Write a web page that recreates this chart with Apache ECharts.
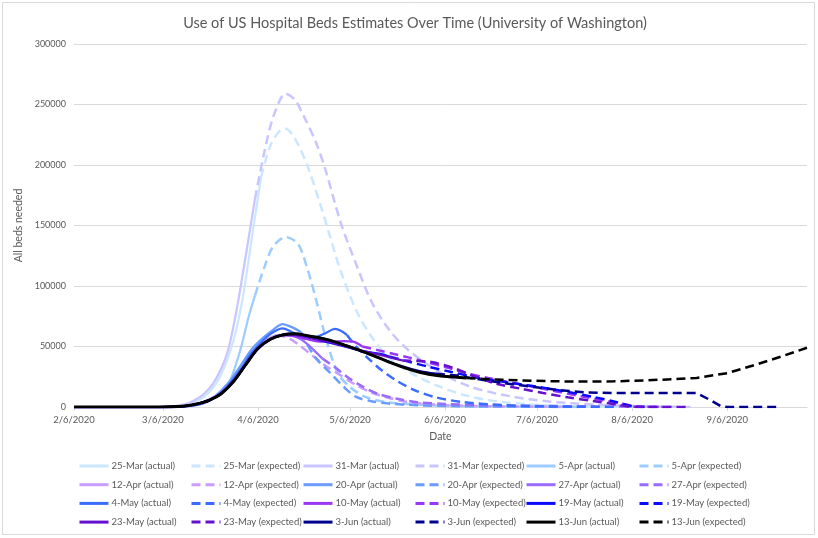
<!DOCTYPE html>
<html>
<head>
<meta charset="utf-8">
<script src="https://cdn.jsdelivr.net/npm/echarts@6/dist/echarts.min.js"></script>
<style>
  html, body { margin: 0; padding: 0; background: #fff; }
  #chart { width: 818px; height: 538px; }
</style>
</head>
<body>
<div id="chart"></div>
<script>
// values, [month/day 2020, beds]
var mar25Actual = [["2/6",0],["3/1",0],["3/8",300],["3/13",1500],["3/17",4500],["3/21",12000],["3/25",27000],["3/29",55000],["4/1",90000],["4/4",140000],["4/7",190000]];
var mar25Expected = [["4/7",190000],["4/10",216000],["4/13",228000],["4/15",230000],["4/18",222000],["4/22",200000],["4/26",170000],["4/29",145000],["5/3",112000],["5/8",80000],["5/13",58000],["5/19",40000],["5/26",28000],["6/3",18000],["6/12",10000],["6/22",5000],["7/3",2200],["7/15",800],["7/31",200],["8/10",0]];
var mar31Actual = [["2/6",0],["3/1",0],["3/6",200],["3/11",1200],["3/15",4000],["3/19",10000],["3/23",22000],["3/27",45000],["3/30",80000],["4/2",125000],["4/5",172000]];
var mar31Expected = [["4/5",172000],["4/8",210000],["4/11",240000],["4/15",259000],["4/18",254000],["4/21",240000],["4/25",218000],["4/28",196000],["5/3",152000],["5/8",118000],["5/13",87000],["5/19",63000],["5/25",47000],["6/4",29000],["6/14",17000],["6/27",9000],["7/10",4500],["7/25",2000],["8/10",600],["8/25",0]];
var apr5Actual = [["2/6",0],["3/6",0],["3/12",300],["3/17",1500],["3/21",5000],["3/24",10000],["3/27",16500],["3/31",45000],["4/3",75000],["4/5",92000]];
var apr5Expected = [["4/5",92000],["4/8",115000],["4/11",133000],["4/15",140500],["4/19",135000],["4/22",115000],["4/25",88000],["4/28",58000],["5/2",28000],["5/6",16500],["5/11",8300],["5/18",4000],["5/28",2000],["6/10",900],["6/30",300],["7/20",0]];
var apr12Actual = [["2/6",0],["3/6",0],["3/12",400],["3/17",2000],["3/21",5000],["3/25",11000],["3/29",22000],["4/2",36000],["4/6",49000],["4/9",56000],["4/12",59500]];
var apr12Expected = [["4/12",59500],["4/16",57000],["4/20",50000],["4/24",42000],["4/28",34000],["5/3",26000],["5/8",18000],["5/13",12000],["5/18",8000],["5/24",4500],["5/31",2500],["6/10",1200],["6/25",500],["7/15",0]];
var apr20Actual = [["2/6",0],["3/8",0],["3/14",800],["3/19",3500],["3/23",9000],["3/27",19000],["3/31",33000],["4/4",48000],["4/8",58000],["4/11",64000],["4/14",68500],["4/17",66000],["4/20",62000]];
var apr20Expected = [["4/20",62000],["4/22",52000],["4/25",40000],["4/30",27000],["5/4",16500],["5/8",8300],["5/13",4800],["5/18",3000],["5/28",1500],["6/10",700],["7/1",200],["7/20",0]];
var apr27Actual = [["2/6",0],["3/8",0],["3/13",800],["3/17",2500],["3/21",6000],["3/25",12000],["3/29",23000],["4/2",36000],["4/6",48000],["4/10",55500],["4/14",59500],["4/17",59000],["4/20",56000],["4/23",50000],["4/25",45000],["4/27",40000]];
var apr27Expected = [["4/27",40000],["5/1",33000],["5/5",25000],["5/10",17000],["5/15",11000],["5/21",7000],["5/28",4000],["6/6",2500],["6/20",1500],["7/6",900],["7/25",500],["8/10",200],["8/20",0]];
var may4Actual = [["2/6",0],["3/8",0],["3/14",700],["3/19",3000],["3/23",8000],["3/27",17000],["3/31",30000],["4/4",45000],["4/8",56000],["4/11",62000],["4/14",65000],["4/17",62000],["4/20",59000],["4/24",57500],["4/28",61000],["5/1",64500],["5/3",63000],["5/5",59500]];
var may4Expected = [["5/5",59500],["5/8",50000],["5/12",40000],["5/16",31000],["5/21",22000],["5/27",14000],["6/3",8000],["6/12",4000],["6/25",1500],["7/10",500],["8/1",0]];
var may10Actual = [["2/6",0],["3/8",0],["3/13",800],["3/17",2500],["3/21",5500],["3/25",11000],["3/29",21000],["4/2",35000],["4/6",48000],["4/10",56000],["4/14",59500],["4/18",58500],["4/22",56000],["4/26",54000],["4/30",54000],["5/4",54500],["5/7",54000],["5/10",50000]];
var may10Expected = [["5/10",50000],["5/15",47000],["5/20",44000],["5/25",41000],["5/31",37000],["6/6",33000],["6/13",28000],["6/20",24000],["6/30",19000],["7/10",14000],["7/20",9000],["7/31",4000],["8/8",500],["8/15",0]];
var may19Actual = [["2/6",0],["3/8",0],["3/13",800],["3/17",2500],["3/21",5500],["3/25",11000],["3/29",21000],["4/2",35000],["4/6",48500],["4/10",56000],["4/16",60500],["4/22",58000],["4/28",54000],["5/3",51000],["5/8",47500],["5/13",45000],["5/16",44000],["5/19",41500]];
var may19Expected = [["5/19",41500],["5/25",37500],["6/1",33000],["6/8",29000],["6/15",25000],["6/22",22000],["6/30",19000],["7/8",16000],["7/16",12500],["7/24",8500],["8/1",4000],["8/6",500],["8/10",0]];
var may23Actual = [["2/6",0],["3/8",0],["3/13",800],["3/17",2500],["3/21",5500],["3/25",11000],["3/29",21000],["4/2",35000],["4/6",48500],["4/10",56000],["4/16",60000],["4/25",56000],["5/2",52000],["5/9",47000],["5/16",43000],["5/23",38500]];
var may23Expected = [["5/23",38500],["5/28",38000],["6/2",37000],["6/9",32000],["6/16",25000],["6/23",19000],["7/1",15000],["7/8",11500],["7/16",8000],["7/24",5000],["8/1",2000],["8/5",300],["8/10",0],["8/24",0]];
var jun3Actual = [["2/6",0],["3/1",0],["3/8",200],["3/13",800],["3/17",2500],["3/21",5500],["3/25",11000],["3/29",21000],["4/2",35000],["4/6",48500],["4/10",56000],["4/14",59500],["4/18",60500],["4/22",59000],["4/29",55500],["5/5",50500],["5/10",46000],["5/15",41000],["5/22",34500],["5/29",29500],["6/3",27500]];
var jun3Expected = [["6/3",27500],["6/10",26000],["6/18",22500],["6/26",19500],["7/5",16500],["7/13",14000],["7/22",12000],["8/1",11600],["8/27",11600],["9/1",5000],["9/4",500],["9/6",0],["9/22",0]];
var jun13Actual = [["2/6",0],["3/1",0],["3/8",200],["3/13",800],["3/17",2500],["3/21",5500],["3/25",11000],["3/29",21000],["4/2",35000],["4/6",48500],["4/10",56000],["4/14",59500],["4/18",60500],["4/22",59000],["4/29",55500],["5/5",50500],["5/10",46000],["5/15",41000],["5/22",34000],["5/29",28500],["6/4",25800],["6/9",24700],["6/13",24000]];
var jun13Expected = [["6/13",24000],["6/20",23000],["6/30",22000],["7/10",21300],["7/20",21000],["7/31",21200],["8/10",22000],["8/20",23000],["8/27",24000],["9/6",28000],["9/16",35500],["9/24",42000],["10/2",49000]];

var forecastDates = ["25-Mar", "31-Mar", "5-Apr", "12-Apr", "20-Apr", "27-Apr", "4-May", "10-May", "19-May", "23-May", "3-Jun", "13-Jun"];
var forecastColors = ["#cbe7ff", "#c9c6ff", "#9dcdff", "#c99cff", "#6a9bff", "#9a6bff", "#3a6cff", "#9b36f7", "#0a0aff", "#6510cf", "#00008f", "#000000"];
var actualData = [mar25Actual, mar31Actual, apr5Actual, apr12Actual, apr20Actual, apr27Actual, may4Actual, may10Actual, may19Actual, may23Actual, jun3Actual, jun13Actual];
var expectedData = [mar25Expected, mar31Expected, apr5Expected, apr12Expected, apr20Expected, apr27Expected, may4Expected, may10Expected, may19Expected, may23Expected, jun3Expected, jun13Expected];

var tickDates = ["2/6", "3/6", "4/6", "5/6", "6/6", "7/6", "8/6", "9/6"];

// x runs in days counted from 2/6/2020
var DAY = 86400000;
var start = Date.UTC(2020, 1, 6);
function toDay(md) {
  var p = md.split("/");
  return Math.round((Date.UTC(2020, +p[0] - 1, +p[1]) - start) / DAY);
}
function dayLabel(n) {
  var d = new Date(start + Math.round(n) * DAY);
  return (d.getUTCMonth() + 1) + "/" + d.getUTCDate() + "/" + d.getUTCFullYear();
}
function toPoints(arr) {
  return arr.map(function (d) { return [toDay(d[0]), d[1]]; });
}

var font = "Lato, 'Open Sans', sans-serif";
var grey = "#595959";

var series = [];
for (var i = 0; i < forecastDates.length; i++) {
  var sharp = forecastDates[i] == "3-Jun" || forecastDates[i] == "13-Jun";
  series.push({
    name: forecastDates[i] + " (actual)",
    type: "line",
    data: toPoints(actualData[i]),
    symbol: "none",
    smooth: 0.3,
    lineStyle: { color: forecastColors[i], width: i == 11 ? 3 : 2.25, type: "solid" },
    itemStyle: { color: forecastColors[i] },
    emphasis: { disabled: true }
  });
  series.push({
    name: forecastDates[i] + " (expected)",
    type: "line",
    data: toPoints(expectedData[i]),
    symbol: "none",
    smooth: sharp ? false : 0.3,
    lineStyle: { color: forecastColors[i], width: 2.5, type: [9, 5] },
    itemStyle: { color: forecastColors[i] },
    emphasis: { disabled: true }
  });
}

// six legend columns, four rows each, laid out like the spreadsheet legend
var legendLefts = [78, 190, 302, 414, 525, 638];
var legends = [];
for (var c = 0; c < 6; c++) {
  var names = [];
  for (var r = 0; r < 4; r++) {
    var k = r * 3 + Math.floor(c / 2);
    names.push(forecastDates[k] + (c % 2 == 0 ? " (actual)" : " (expected)"));
  }
  legends.push({
    data: names,
    orient: "vertical",
    left: legendLefts[c],
    top: 459,
    padding: 0,
    itemWidth: 29,
    itemHeight: 14,
    itemGap: 4.7,
    selectedMode: false,
    itemStyle: { opacity: 0 },
    lineStyle: { width: 3 },
    textStyle: { fontFamily: font, fontSize: 9.5, color: grey, lineHeight: 14, padding: [0, 0, 0, -2] }
  });
}

var chart = echarts.init(document.getElementById("chart"));
chart.setOption({
  animation: false,
  title: {
    text: "Use of US Hospital Beds Estimates Over Time (University of Washington)",
    left: 410,
    textAlign: "center",
    top: 11,
    textStyle: { fontFamily: font, fontSize: 14.5, fontWeight: "normal", color: grey }
  },
  graphic: [{
    type: "rect",
    shape: { x: 2.5, y: 2.5, width: 812, height: 532 },
    style: { fill: "none", stroke: "#d9d9d9", lineWidth: 1 },
    silent: true
  }],
  legend: legends,
  grid: { left: 74, right: 11, top: 44, bottom: 131 },
  xAxis: {
    type: "value",
    min: 0,
    max: toDay("10/2"),
    name: "Date",
    nameLocation: "middle",
    nameGap: 24,
    nameTextStyle: { fontFamily: font, fontSize: 10.5, color: grey },
    axisLine: { lineStyle: { color: "#d9d9d9" } },
    axisTick: { show: true, length: 4, lineStyle: { color: "#d9d9d9" }, customValues: tickDates.map(toDay) },
    axisLabel: {
      customValues: tickDates.map(toDay),
      fontFamily: font, fontSize: 9.5, color: grey, margin: 8,
      formatter: function (v) { return dayLabel(v); }
    },
    splitLine: { show: false }
  },
  yAxis: {
    type: "value",
    min: 0,
    max: 300000,
    interval: 50000,
    name: "All beds needed",
    nameLocation: "middle",
    nameGap: 42,
    nameTextStyle: { fontFamily: font, fontSize: 10.5, color: grey },
    axisLine: { show: false },
    axisTick: { show: false },
    axisLabel: { fontFamily: font, fontSize: 9, color: grey, margin: 8, formatter: function (v) { return String(v); } },
    splitLine: { lineStyle: { color: "#d9d9d9", width: 1 } }
  },
  series: series
});
</script>
</body>
</html>
